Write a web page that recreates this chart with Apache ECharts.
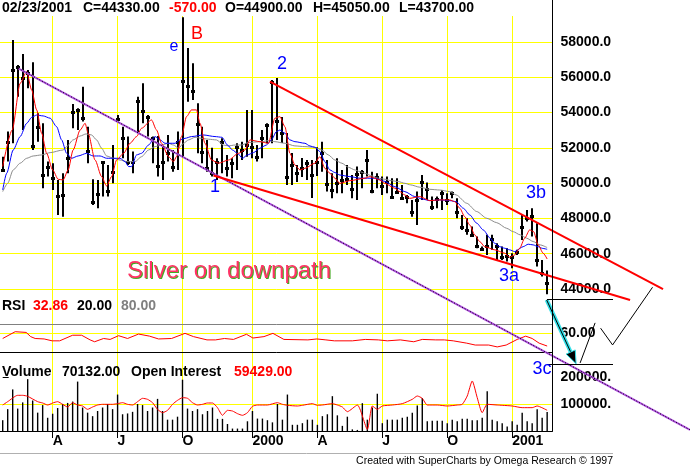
<!DOCTYPE html>
<html>
<head>
<meta charset="utf-8">
<script src="https://cdn.jsdelivr.net/npm/echarts@6.0.0/dist/echarts.min.js"></script>
<style>
html, body { margin: 0; padding: 0; background: #fff; }
#main { width: 690px; height: 467px; }
</style>
</head>
<body>
<div id="main"></div>
<script>
// weekly silver bars, index 0 = 01/22/1999 ... 109 = 02/23/2001
var highs = [51500,52920,58110,56700,57320,56410,56850,53960,53390,51220,
  51130,50180,50560,52450,54490,54240,55470,53200,50220,50180,
  51220,51030,52160,53860,53200,52640,51790,54900,55660,53860,
  52640,52670,52070,52730,51880,52920,59400,57660,56790,54530,
  53200,52450,52010,51410,52540,51600,51410,52260,52350,54150,
  54150,52160,53010,53390,55850,55960,53750,52840,51710,51030,
  51430,51310,51310,52050,52350,51310,50560,51410,50750,51030,
  50460,50940,50750,51880,50650,50560,50370,50370,50280,50280,
  49900,49330,49050,49520,50460,50030,49240,49240,49610,49430,
  49520,49140,48200,48010,47540,46970,46410,47070,47070,46590,
  46410,46310,46030,46220,48200,48480,48580,47730,45650,45050];
var lows = [50650,51220,52260,54900,53010,55380,51880,52350,49710,50370,
  49610,48200,48100,50560,53110,53010,53490,51130,48760,48580,
  49240,49240,49990,53490,51410,51030,50560,52830,53390,52640,
  51130,50370,50180,51220,50650,50750,51500,54620,54710,51690,
  51130,50650,50370,50180,50560,50370,50280,50750,51310,51500,
  51410,51220,51410,52260,52260,52450,52280,49900,49900,50070,
  50350,50180,49160,50410,50650,49520,49140,49430,49430,49900,
  49140,49050,49710,50370,49430,49710,49330,49430,49200,49430,
  49050,48860,48100,47630,49050,49050,48480,48580,48480,48760,
  49140,48010,47350,47070,46970,46310,46220,45930,46220,45650,
  45650,45560,45180,45930,46780,47820,46970,45270,44710,43700];
var closes = [50750,52350,56410,56600,55980,56230,52130,53200,50460,50940,
  50280,49290,49330,51410,54050,54150,53680,51840,48930,49390,
  51180,49560,50620,53640,52580,51220,51180,54680,54110,53730,
  52540,50970,51220,51730,50940,52350,55810,55530,55220,53350,
  51790,50840,50560,51220,52350,50840,51130,52070,51880,52160,
  52070,51500,52540,53300,55750,53520,52830,50370,51030,50600,
  50860,51160,50460,51220,51730,49960,49610,50030,50180,50220,
  49650,50520,50650,51310,49580,50370,49840,50090,49240,49520,
  49140,49240,48390,49050,50050,49650,48670,49090,49430,49050,
  49430,48390,47540,47350,47070,46410,46260,46440,46820,46410,
  45800,45880,45800,46120,47500,48010,48140,45650,44900,44330];
var volumes = [40000,81000,154000,83000,106000,192000,113000,68000,96000,49000,
  64000,85000,100000,104000,109000,183000,87000,68000,55000,74000,
  87000,100000,81000,135000,62000,65000,71000,100000,96000,74000,
  87000,119000,74000,42000,42000,53000,190000,83000,74000,81000,
  62000,74000,87000,45000,45000,26000,9000,9000,9000,36000,
  74000,46000,46000,40000,32000,100000,42000,135000,23000,23000,
  29000,42000,42000,23000,55000,62000,129000,58000,19000,53000,
  6000,4000,103000,42000,87000,138000,29000,42000,42000,42000,
  49000,53000,68000,94000,122000,36000,38000,38000,38000,29000,
  42000,36000,45000,45000,40000,40000,49000,147000,42000,36000,
  29000,17000,36000,23000,68000,36000,29000,81000,49000,70132];

// open interest, [week, contracts]
var openInt = [[0,74600],[1,84200],[3,102400],[4,102400],[5,99500],[7,84200],[8,80400],[9,74600],
  [10,80400],[11,84200],[12,76600],[13,68900],[14,81300],[15,74600],[16,71800],[17,62200],[18,68900],
  [19,74600],[20,76600],[22,76600],[23,78500],[24,81300],[25,76600],[26,74600],[27,84200],[28,93800],
  [29,90900],[30,81300],[31,62200],[32,52600],[33,59300],[34,76600],[35,88000],[36,95700],[37,93800],
  [38,81300],[39,74600],[40,76600],[41,80400],[42,80400],[43,67000],[44,45000],[45,59300],[46,57400],
  [47,49800],[48,45000],[49,52600],[50,70800],[51,74600],[53,74600],[55,81300],[56,76600],[57,73700],
  [59,71800],[60,73700],[62,78500],[63,73700],[64,74600],[66,78500],[67,74600],[68,68900],[69,55500],
  [71,74600],[73,4800],[74,71800],[75,62200],[76,71800],[78,74600],[80,78500],[82,90900],[83,100500],
  [84,93800],[85,74600],[87,74600],[89,71800],[91,74600],[92,76600],[93,100500],[94,143600],[95,95700],
  [96,52600],[97,76600],[99,74600],[100,73700],[102,71800],[104,67000],[106,67000],[107,71800],[109,59429]];

// moving averages, [week, price]
var maRed = [[0,50940],[1.9,53010],[3.5,55660],[4.8,56320],[5.8,55280],[6.8,54150],[7.8,52830],[8.8,51690],
  [10,50750],[11.1,50220],[12.1,50180],[13.1,50750],[14.1,51880],[15.5,53010],[16.5,53390],[17.1,52830],
  [18.5,51310],[19.8,50370],[20.8,49840],[21.8,50370],[22.8,51310],[24.2,51690],[25.5,52260],[26.8,52640],
  [27.8,53110],[29.8,53580],[30.8,53010],[31.8,52260],[33.2,51500],[34.2,51220],[34.8,51500],[35.8,52640],
  [36.8,53770],[37.8,54150],[38.8,54150],[39.5,53390],[40.5,52260],[41.8,51310],[43.2,51130],[45.2,51310],
  [47.2,51690],[48.5,51880],[49.5,52450],[51.5,52350],[53.2,52260],[54.5,53680],[55.5,53770],[56.5,53200],
  [57.5,51690],[58.5,51030],[59.5,50750],[60.5,50840],[62.5,51130],[63.5,51500],[64.5,50840],[65.5,50560],
  [66.5,50280],[67.5,49990],[69.5,50140],[72.5,50280],[73.5,50370],[75.5,50180],[76.5,49990],[78.5,49710],
  [79.5,49520],[80.5,49330],[81.5,49140],[83.5,49240],[85.5,49010],[87.5,49050],[89.5,49050],[90.5,48950],
  [91.5,48580],[92.5,48100],[93.5,47630],[94.5,47070],[95.5,46690],[96.5,46400],[98.5,46220],[100.5,46030],
  [101.5,45800],[102.5,45930],[103.5,46310],[104.5,46880],[105.5,47350],[106.3,47250],[107.2,46500],
  [108.2,46030],[109,45700]];
var maBlue = [[0,49610],[0.8,50560],[2.1,51880],[3.5,52640],[4.8,53390],[5.8,53730],[6.8,53860],[8.1,53810],
  [9.5,53680],[10.8,53200],[11.8,52450],[12.8,51690],[13.8,51410],[15.1,51540],[16.8,51690],[18.1,51540],
  [19.5,51540],[20.8,51410],[22.2,51410],[23.5,51410],[24.5,51220],[25.2,50940],[25.8,50940],[26.8,51600],
  [27.8,51690],[29.2,52160],[30.5,52640],[31.5,52450],[32.5,52260],[34.5,52260],[35.5,52450],[36.5,52540],
  [37.8,52640],[40.2,52730],[42.5,52640],[43.9,52600],[45,52160],[46,51880],[47,51690],[48,51410],
  [49,51600],[50.2,51730],[51.5,51980],[52.8,52160],[53.8,52450],[54.8,52920],[55.5,53010],[56.5,52830],
  [57.5,52450],[58.5,52350],[60.5,52260],[61.5,52110],[62.5,52030],[63.5,51790],[64.5,51220],[65.5,50750],
  [66.5,50600],[67.5,50460],[69.5,50370],[71.5,50280],[74.5,50280],[76.5,50100],[78.5,49800],[80.5,49520],
  [82.5,49240],[84,49100],[85.5,49010],[87.5,49050],[89.5,49010],[90.8,48950],[92.2,48580],[93.5,48200],
  [94.9,47730],[96.2,47350],[97.6,46880],[98.5,46590],[99.5,46400],[100.5,46310],[101.5,46220],[102.5,46120],
  [104.2,46400],[105.2,46540],[106.2,46500],[107.2,46400],[108.1,46300],[109,46250]];
var maGray = [[0,49520],[1,49990],[2.1,50750],[3.5,51130],[4.8,51410],[6.1,51540],[7.8,51600],[9.5,51730],
  [12.1,51880],[12.8,52070],[14.1,52450],[15.5,52670],[16.7,52790],[17.8,52730],[18.8,52450],[19.8,51980],
  [20.8,51540],[22.2,51410],[23.5,51310],[24.8,51220],[26.5,51220],[27.8,51500],[29.2,51880],[30.5,52070],
  [31.8,52160],[33.2,52260],[34.2,52160],[35.2,51980],[36.2,52260],[37.2,52450],[38.5,52600],[39.8,52540],
  [41.2,52490],[42.8,52450],[44.2,52160],[45.2,52110],[46.5,52160],[47.8,52160],[49.2,52300],[50.5,52330],
  [51.9,52350],[53.2,52410],[54.5,52350],[56.5,52260],[58.5,52110],[60.5,52070],[62.5,52030],[63.9,51880],
  [65.2,51600],[66.5,51310],[67.9,51130],[69.2,50900],[70.5,50750],[71.5,50650],[72.5,50560],[73.9,50410],
  [75.2,50280],[76.5,50220],[77.8,50140],[79.2,50090],[80.5,49990],[81.7,49900],[83.5,49770],[85.5,49650],
  [87.5,49610],[89.5,49520],[90.8,49330],[92.9,48860],[94.9,48390],[96.9,48010],[98.9,47760],[100.9,47440],
  [102.2,47250],[103.6,47070],[104.9,46880],[106.2,46690],[107.6,46500],[109,46350]];

// RSI, [week, value]
var rsiPts = [[0,49],[2.5,63.5],[4.7,62],[5.6,53],[6.5,49],[8.3,48],[9.9,44],[11.4,44],[14,56],[15.8,56],
  [17.5,46],[18.4,42],[20.2,49],[21.5,47],[23.2,55],[25,49],[27.2,58.5],[29.4,54],[31.2,48],[33.8,49],
  [36.5,60],[38.2,53],[40.9,46],[42.6,46],[44.4,49],[46.2,47],[48.8,58],[50.1,50],[52.3,53],[54.1,60],
  [56.3,47],[61.1,46],[62.9,48],[64.7,46],[66.4,44],[70,44],[72.6,47],[75.2,46],[77,44],[79.6,46],
  [82.3,42],[84,47],[86.7,46],[88.4,46],[90.2,44],[92.9,39],[94.6,35],[97.3,35],[99,31],[100.8,35],
  [103,47],[104.7,54],[106,49],[107.4,39],[109,32.86]];
var rsiLevels = [80, 20];

// hand drawn wave lines, [week, price]
var fanLine = [[3.1, 56510], [137.6, 36020]];
var upperChannel = [[53.5, 55750], [132.2, 44000]];
var lowerChannel = [[42.2, 50430], [125.6, 43380]];
var arrowLine = [[108.9, 43380], [114.8, 39760]];
var zigA = [[115.6, 39810], [118.6, 42080]];
var zigB = [[119.7, 41780], [122.1, 40830], [130.1, 44100]];

var quarterIdx = [10, 23, 36, 50, 63, 76, 89, 102];
var quarterLabels = ['A', 'J', 'O', '2000', 'A', 'J', 'O', '2001'];
var priceTicks = [44000, 46000, 48000, 50000, 52000, 54000, 56000, 58000];
var rsiTicks = [60];
var volTicks = [100000, 200000];
var volGrid = [100000];

var FONT = '"Liberation Sans", Arial, sans-serif';
var X_MIN = -0.54, X_MAX = 110.07, PLOT_W = 552.5;

var weekIdx = [];
for (var w = 0; w <= 110; w++) weekIdx.push(w);

function isQuarter(index) {
    return quarterIdx.indexOf(index) >= 0;
}

function axisText(v) {
    var s = v.toFixed(2);
    return s.length > 7 ? s.substr(0, 7) : s;
}

function rightAxis(grid, min, max, interval, ticks) {
    return {
        type: 'value', gridIndex: grid, position: 'right',
        min: min, max: max, interval: interval,
        axisLine: { show: false },
        axisTick: { show: true, length: 6, customValues: ticks, lineStyle: { color: '#000' } },
        axisLabel: {
            customValues: ticks,
            margin: 8, color: '#000', fontWeight: 'bold', fontSize: 14, fontFamily: FONT,
            formatter: axisText
        },
        splitLine: { show: false }
    };
}

function hiddenX(grid) {
    return { type: 'value', gridIndex: grid, min: X_MIN, max: X_MAX, show: false };
}

// yellow grid rules drawn as marker lines under the data
function gridRules(values) {
    return {
        silent: true, symbol: 'none', label: { show: false }, animation: false, z: 1,
        lineStyle: { color: '#ffff00', width: 1, type: 'solid' },
        data: values.map(function(v) { return { yAxis: v }; })
    };
}

function maLine(data, color, rules) {
    var s = {
        type: 'line', xAxisIndex: 1, yAxisIndex: 1, data: data, showSymbol: false,
        smooth: 0.25, smoothMonotone: 'x', silent: true, z: 4,
        lineStyle: { color: color, width: 1 }
    };
    if (rules) s.markLine = gridRules(rules);
    return s;
}

// free drawn lines go past the plot edge, so they are drawn by a custom series
function toSegments(pts) {
    var out = [];
    for (var i = 1; i < pts.length; i++) {
        out.push([pts[i - 1][0], pts[i - 1][1], pts[i][0], pts[i][1]]);
    }
    return out;
}

function trend(pts, layers, z) {
    return {
        type: 'custom', xAxisIndex: 1, yAxisIndex: 1, data: toSegments(pts),
        encode: { x: [0, 2], y: [1, 3] }, silent: true, z: z || 6, clip: false,
        renderItem: function(params, api) {
            var a = api.coord([api.value(0), api.value(1)]);
            var b = api.coord([api.value(2), api.value(3)]);
            return {
                type: 'group',
                children: layers.map(function(st) {
                    return { type: 'line', shape: { x1: a[0], y1: a[1], x2: b[0], y2: b[1] }, style: st };
                })
            };
        }
    };
}

function renderBar(params, api) {
    var top = api.coord([api.value(0), api.value(1)]);
    var bot = api.coord([api.value(0), api.value(2)]);
    var c = api.coord([api.value(0), api.value(3)]);
    var x = Math.round(top[0]);
    return {
        type: 'group',
        children: [{
            type: 'line',
            shape: { x1: x, y1: top[1], x2: x, y2: bot[1] },
            style: { stroke: '#000', lineWidth: 2 }
        }, {
            type: 'rect',
            shape: { x: x - 2, y: Math.round(c[1]) - 1, width: 4, height: 3 },
            style: { fill: '#000' }
        }]
    };
}

function renderArrow(params, api) {
    var a = api.coord([api.value(0), api.value(1)]);
    var b = api.coord([api.value(2), api.value(3)]);
    var ang = Math.atan2(b[1] - a[1], b[0] - a[0]);
    var len = 13, half = 5;
    var bx = b[0] - Math.cos(ang) * len, by = b[1] - Math.sin(ang) * len;
    var px = -Math.sin(ang) * half, py = Math.cos(ang) * half;
    return {
        type: 'group',
        children: [{
            type: 'line', shape: { x1: a[0], y1: a[1], x2: bx, y2: by },
            style: { stroke: '#33e0e8', lineWidth: 4 }
        }, {
            type: 'line', shape: { x1: a[0], y1: a[1], x2: bx, y2: by },
            style: { stroke: '#000', lineWidth: 1 }
        }, {
            type: 'polygon',
            shape: { points: [[b[0], b[1]], [bx + px, by + py], [bx - px, by - py]] },
            style: { fill: '#000', stroke: '#33e0e8', lineWidth: 1 }
        }]
    };
}

function txt(x, y, text, color, font, align) {
    return {
        type: 'text', x: x, y: y, silent: true, z: 100,
        style: { text: text, fill: color, font: font, align: align || 'left', verticalAlign: 'middle' }
    };
}

var barData = highs.map(function(h, i) { return [i, h, lows[i], closes[i]]; });
var volData = volumes.map(function(v, i) { return [i, v]; });

var bold = 'bold 14px ' + FONT;
var waveFont = '18px ' + FONT;

var chart = echarts.init(document.getElementById('main'));
chart.setOption({
    animation: false,
    backgroundColor: '#fff',
    grid: [
        { left: 2.7, width: 549.45, top: 16, height: 415 },
        { left: 0, width: PLOT_W, top: 6.7, height: 317.6 },
        { left: 0, width: PLOT_W, top: 305.3, height: 56.1 },
        { left: 0, width: PLOT_W, top: 377, height: 54 }
    ],
    xAxis: [{
        type: 'category', gridIndex: 0, data: weekIdx, boundaryGap: false,
        axisLine: { show: false },
        axisTick: { show: true, interval: isQuarter, length: 7, lineStyle: { color: '#000' } },
        axisLabel: {
            interval: isQuarter, align: 'left', margin: 3,
            color: '#000', fontWeight: 'bold', fontSize: 14, fontFamily: FONT,
            formatter: function(v, idx) { return quarterLabels[quarterIdx.indexOf(idx)] || ''; }
        },
        splitLine: { show: true, interval: isQuarter, lineStyle: { color: '#ffff00', width: 1 } }
    },
        hiddenX(1), hiddenX(2),
        {
            type: 'value', gridIndex: 3, min: X_MIN, max: X_MAX,
            axisLine: { show: true, lineStyle: { color: '#000', width: 1 } },
            axisTick: { show: false }, axisLabel: { show: false }, splitLine: { show: false }
        }
    ],
    yAxis: [
        { type: 'value', gridIndex: 0, show: false },
        rightAxis(1, 42000, 60000, 2000, priceTicks),
        rightAxis(2, 0, 120, 60, rsiTicks),
        rightAxis(3, 0, 200000, 100000, volTicks),
        { type: 'value', gridIndex: 3, min: 0, max: 155000, show: false }
    ],
    series: [
        {
            type: 'custom', xAxisIndex: 1, yAxisIndex: 1, data: barData,
            encode: { x: 0, y: [1, 2, 3] }, renderItem: renderBar, silent: true, z: 3
        },
        maLine(maGray, '#8c8c8c', priceTicks),
        maLine(maBlue, '#0000ff'),
        maLine(maRed, '#ff0000'),
        {
            type: 'line', xAxisIndex: 2, yAxisIndex: 2, data: rsiPts, showSymbol: false, silent: true,
            lineStyle: { color: '#ff0000', width: 1 }, z: 4,
            markLine: gridRules(rsiTicks)
        },
        {
            // RSI 80 / 20 levels
            type: 'line', xAxisIndex: 2, yAxisIndex: 2, data: [], silent: true, z: 3,
            markLine: {
                silent: true, symbol: 'none', label: { show: false }, animation: false,
                data: [
                    { yAxis: rsiLevels[0], lineStyle: { color: '#808080', width: 1, type: 'solid' } },
                    { yAxis: rsiLevels[1], lineStyle: { color: '#000', width: 1, type: 'solid' } }
                ]
            }
        },
        {
            type: 'bar', xAxisIndex: 3, yAxisIndex: 3, data: volData, barWidth: 1.4,
            itemStyle: { color: '#000' }, silent: true, z: 3
        },
        {
            type: 'line', xAxisIndex: 3, yAxisIndex: 4, data: openInt, showSymbol: false, silent: true,
            smooth: 0.2, lineStyle: { color: '#ff0000', width: 1 }, z: 4
        },
        {
            type: 'line', xAxisIndex: 3, yAxisIndex: 3, data: [], silent: true, z: 1,
            markLine: gridRules(volGrid)
        },
        trend(fanLine, [{ stroke: '#b050e0', lineWidth: 2 }, { stroke: '#000', lineWidth: 1, lineDash: [1, 2] }]),
        trend(upperChannel, [{ stroke: '#ff0000', lineWidth: 2 }]),
        trend(lowerChannel, [{ stroke: '#ff0000', lineWidth: 2 }]),
        trend(zigA, [{ stroke: '#000', lineWidth: 1 }]),
        trend(zigB, [{ stroke: '#000', lineWidth: 1 }]),
        {
            type: 'custom', xAxisIndex: 1, yAxisIndex: 1,
            data: [[arrowLine[0][0], arrowLine[0][1], arrowLine[1][0], arrowLine[1][1]]],
            encode: { x: [0, 2], y: [1, 3] }, renderItem: renderArrow, silent: true, z: 7
        }
    ],
    graphic: [
        // frame pieces
        { type: 'line', silent: true, z: 50, shape: { x1: 552.5, y1: 0, x2: 552.5, y2: 431 }, style: { stroke: '#000', lineWidth: 1 } },
        { type: 'line', silent: true, z: 50, shape: { x1: 547, y1: 299.5, x2: 613, y2: 299.5 }, style: { stroke: '#000', lineWidth: 1 } },
        { type: 'line', silent: true, z: 50, shape: { x1: 547, y1: 364.5, x2: 613, y2: 364.5 }, style: { stroke: '#000', lineWidth: 1 } },
        { type: 'line', silent: true, z: 50, shape: { x1: 0, y1: 453.5, x2: 613, y2: 453.5 }, style: { stroke: '#b0b0b0', lineWidth: 1 } },
        // header
        txt(2, 8.5, '02/23/2001', '#000', bold),
        txt(83, 8.5, 'C=44330.00', '#000', bold),
        txt(169, 8.5, '-570.00', '#ff0000', bold),
        txt(225, 8.5, 'O=44900.00', '#000', bold),
        txt(313, 8.5, 'H=45050.00', '#000', bold),
        txt(399, 8.5, 'L=43700.00', '#000', bold),
        // indicator legends
        txt(2, 306.5, 'RSI', '#000', bold),
        txt(33, 306.5, '32.86', '#ff0000', bold),
        txt(77, 306.5, '20.00', '#000', bold),
        txt(121, 306.5, '80.00', '#808080', bold),
        txt(2, 372, 'Volume', '#000', bold),
        txt(62, 372, '70132.00', '#000', bold),
        txt(131, 372, 'Open Interest', '#000', bold),
        txt(234, 372, '59429.00', '#ff0000', bold),
        // wave count
        txt(174, 47, 'e', '#0000ff', '16px ' + FONT, 'center'),
        txt(197, 34, 'B', '#ff0000', waveFont, 'center'),
        txt(282, 64, '2', '#0000ff', waveFont, 'center'),
        txt(215, 187, '1', '#0000ff', waveFont, 'center'),
        txt(536, 193, '3b', '#0000ff', waveFont, 'center'),
        txt(509, 276, '3a', '#0000ff', waveFont, 'center'),
        txt(542, 369, '3c', '#0000ff', waveFont, 'center'),
        txt(128, 272, 'Silver on downpath', '#44aa22', '24px ' + FONT),
        txt(127, 271, 'Silver on downpath', '#ff3366', '24px ' + FONT),
        txt(613, 461, 'Created with SuperCharts by Omega Research \u00a9 1997', '#000', '10.5px ' + FONT, 'right')
    ]
});
</script>
</body>
</html>
